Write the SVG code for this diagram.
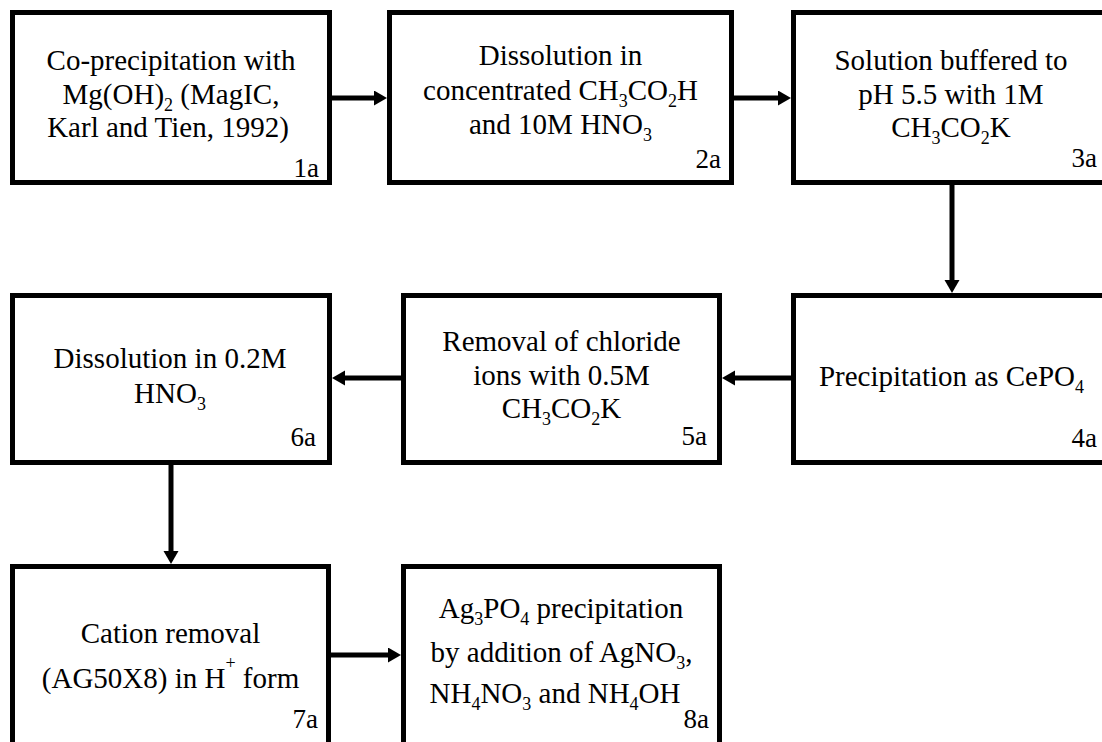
<svg xmlns="http://www.w3.org/2000/svg" width="1102" height="742" viewBox="0 0 1102 742">
<style>
.box{fill:#fff;stroke:#000;stroke-width:5}
.t{font-family:'Liberation Serif','DejaVu Serif',serif;font-size:29px;fill:#000;text-anchor:middle}
.lab{font-family:'Liberation Serif','DejaVu Serif',serif;font-size:27px;fill:#000;text-anchor:end}
.s{font-size:18px}
.c{stroke:#000;stroke-width:5;fill:none}
</style>
<defs>
<marker id="ah" markerUnits="userSpaceOnUse" markerWidth="14" markerHeight="16" refX="1" refY="7.5" orient="auto">
<path d="M0,0 L13,7.5 L0,15 z" fill="#000"/>
</marker>
</defs>
<rect width="1102" height="742" fill="#fff"/>
<g id="connectors">
<line class="c" x1="332" y1="98" x2="375" y2="98" marker-end="url(#ah)"/>
<line class="c" x1="734" y1="98" x2="779" y2="98" marker-end="url(#ah)"/>
<line class="c" x1="952" y1="185" x2="952" y2="281" marker-end="url(#ah)"/>
<line class="c" x1="791" y1="378" x2="734" y2="378" marker-end="url(#ah)"/>
<line class="c" x1="401" y1="378" x2="344" y2="378" marker-end="url(#ah)"/>
<line class="c" x1="171" y1="465" x2="171" y2="552" marker-end="url(#ah)"/>
<line class="c" x1="331" y1="655" x2="389" y2="655" marker-end="url(#ah)"/>
</g>
<g id="n1">
<rect class="box" x="12.5" y="12.5" width="317" height="170"/>
<text class="t" x="171" y="70">Co-precipitation with</text>
<text class="t" x="171" y="103.5">Mg(OH)<tspan class="s" dy="7">2</tspan><tspan dy="-7"> (MagIC,</tspan></text>
<text class="t" x="168" y="137">Karl and Tien, 1992)</text>
<text class="lab" x="319" y="177">1a</text>
</g>
<g id="n2">
<rect class="box" x="389.5" y="12.5" width="342" height="170"/>
<text class="t" x="560.5" y="65">Dissolution in</text>
<text class="t" x="560.5" y="99.5">concentrated CH<tspan class="s" dy="7">3</tspan><tspan dy="-7">CO</tspan><tspan class="s" dy="7">2</tspan><tspan dy="-7">H</tspan></text>
<text class="t" x="560.5" y="133.5">and 10M HNO<tspan class="s" dy="7">3</tspan></text>
<text class="lab" x="721" y="168">2a</text>
</g>
<g id="n3">
<rect class="box" x="793.5" y="12.5" width="320" height="170"/>
<text class="t" x="951" y="70">Solution buffered to</text>
<text class="t" x="951" y="103.5">pH 5.5 with 1M</text>
<text class="t" x="951" y="137">CH<tspan class="s" dy="7">3</tspan><tspan dy="-7">CO</tspan><tspan class="s" dy="7">2</tspan><tspan dy="-7">K</tspan></text>
<text class="lab" x="1097" y="167">3a</text>
</g>
<g id="n4">
<rect class="box" x="793.5" y="295.5" width="320" height="167"/>
<text class="t" x="951.5" y="386">Precipitation as CePO<tspan class="s" dy="7">4</tspan></text>
<text class="lab" x="1097" y="447">4a</text>
</g>
<g id="n5">
<rect class="box" x="403.5" y="295.5" width="316" height="167"/>
<text class="t" x="561.5" y="351">Removal of chloride</text>
<text class="t" x="561.5" y="384.5">ions with 0.5M</text>
<text class="t" x="561.5" y="418">CH<tspan class="s" dy="7">3</tspan><tspan dy="-7">CO</tspan><tspan class="s" dy="7">2</tspan><tspan dy="-7">K</tspan></text>
<text class="lab" x="707" y="445">5a</text>
</g>
<g id="n6">
<rect class="box" x="12.5" y="295.5" width="317" height="167"/>
<text class="t" x="170" y="368">Dissolution in 0.2M</text>
<text class="t" x="170" y="403">HNO<tspan class="s" dy="7">3</tspan></text>
<text class="lab" x="316" y="446">6a</text>
</g>
<g id="n7">
<rect class="box" x="12.5" y="566.5" width="316" height="200"/>
<text class="t" x="170.5" y="643">Cation removal</text>
<text class="t" x="170.5" y="688">(AG50X8) in H<tspan class="s" dy="-19">+</tspan><tspan dy="19"> form</tspan></text>
<text class="lab" x="318" y="728">7a</text>
</g>
<g id="n8">
<rect class="box" x="403.5" y="566.5" width="316" height="200"/>
<text class="t" x="561" y="618">Ag<tspan class="s" dy="7">3</tspan><tspan dy="-7">PO</tspan><tspan class="s" dy="7">4</tspan><tspan dy="-7"> precipitation</tspan></text>
<text class="t" x="561.5" y="662">by addition of AgNO<tspan class="s" dy="7">3</tspan><tspan dy="-7">,</tspan></text>
<text class="t" x="555" y="703">NH<tspan class="s" dy="7">4</tspan><tspan dy="-7">NO</tspan><tspan class="s" dy="7">3</tspan><tspan dy="-7"> and NH</tspan><tspan class="s" dy="7">4</tspan><tspan dy="-7">OH</tspan></text>
<text class="lab" x="709" y="728">8a</text>
</g>
</svg>
